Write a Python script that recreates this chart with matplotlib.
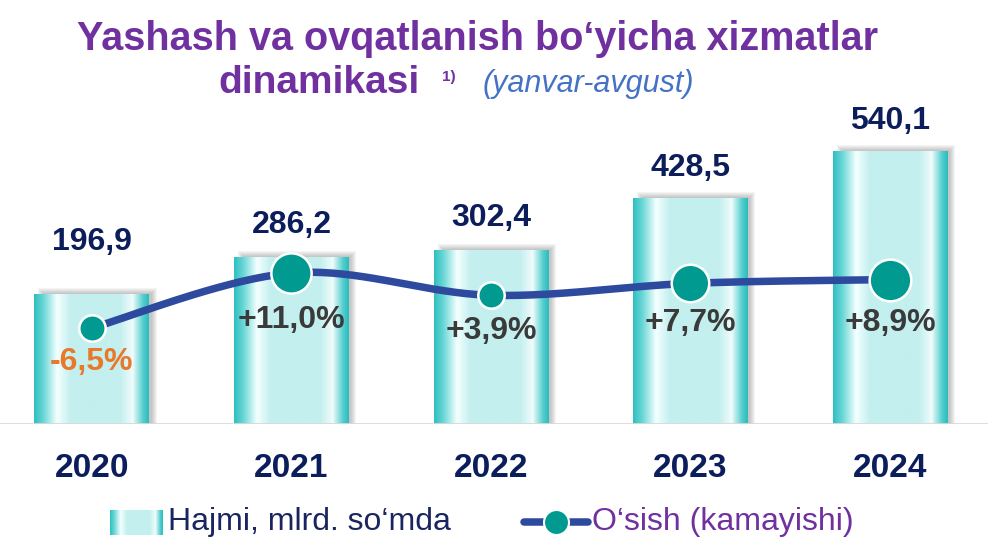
import numpy as np
import matplotlib.pyplot as plt
from matplotlib.patches import Rectangle
from matplotlib.colors import to_rgb

years = ["2020", "2021", "2022", "2023", "2024"]
volume = [196.9, 286.2, 302.4, 428.5, 540.1]
growth = [-6.5, 11.0, 3.9, 7.7, 8.9]
volume_labels = ["196,9", "286,2", "302,4", "428,5", "540,1"]
growth_labels = ["-6,5%", "+11,0%", "+3,9%", "+7,7%", "+8,9%"]

W, H = 988, 548
NAVY = "#0B1D5B"
PURPLE = "#7030A0"
LINE = "#2E4A9E"
TEAL = "#009A91"
FONT = "Liberation Sans"

plt.rcParams["font.family"] = [FONT, "DejaVu Sans"]

fig = plt.figure(figsize=(W / 100, H / 100), dpi=100)

# bar axis: bottom at pixel 424, top at pixel 100
ax = fig.add_axes([0, (H - 424) / H, 1, 324 / H])
px_per_unit = 0.4166
ymin = -115
ax.set_ylim(ymin, ymin + 324 / px_per_unit)
ax.set_xlim(-92 / 199.5, (W - 92) / 199.5)
for s in ax.spines.values():
    s.set_visible(False)
ax.set_yticks([])

x = np.arange(len(years))
px_x = 1 / 199.5
bw = 115 * px_x

# cylinder-like gradient across the bar
stops = [(0.0, "#2FC0C0"), (0.08, "#6AD6D6"), (0.2, "#F4FFFF"), (0.32, "#C4EFEF"),
         (0.75, "#C4EFEF"), (0.86, "#F0FCFC"), (0.95, "#55CECE"), (1.0, "#2BBDBD")]
pos = np.linspace(0, 1, 200)
grad = np.zeros((1, 200, 3))
for c in range(3):
    grad[0, :, c] = np.interp(pos, [p for p, _ in stops], [to_rgb(col)[c] for _, col in stops])

bars = ax.bar(x, np.array(volume) - ymin, bottom=ymin, width=bw, color="none", zorder=3)
for b in bars:
    bx, by, bwid, bh = b.get_x(), b.get_y(), b.get_width(), b.get_height()
    # soft blurred shadow, up and to the right
    for k in range(6):
        ax.add_patch(Rectangle((bx + (9 - k) * px_x, by),
                               bwid - (9 - k) * px_x + (2 + k) * px_x,
                               bh + (1 + k) / px_per_unit, color="#4A4A4A",
                               alpha=0.06, lw=0, zorder=2))
    im = ax.imshow(grad, extent=[bx, bx + bwid, by, by + bh], aspect="auto", zorder=3)
    im.set_clip_path(b)

ax.axhline(ymin, color="#D9D9D9", lw=2, zorder=4)

gaps = [52, 32, 32, 30, 30]
for xi, v, lab, g in zip(x, volume, volume_labels, gaps):
    ax.annotate(lab, (xi, v), xytext=(0, g * 0.72), textcoords="offset points",
                ha="center", va="center", fontsize=23, fontweight="bold", color=NAVY)

ax.set_xticks(x)
ax.set_xticklabels(years, fontsize=24, fontweight="bold", color=NAVY)
ax.tick_params(axis="x", length=0, pad=21)

# growth line on a twin axis
ax2 = ax.twinx()
ax2.set_ylim(-37.1, 66.1)
ax2.set_yticks([])
for s in ax2.spines.values():
    s.set_visible(False)

# smoothed curve (Catmull-Rom) through the points
pts = np.column_stack([x, growth]).astype(float)
ext = np.vstack([pts[0], pts, pts[-1]])
curve = []
t = np.linspace(0, 1, 40)[:, None]
for i in range(1, len(ext) - 2):
    p0, p1, p2, p3 = ext[i - 1], ext[i], ext[i + 1], ext[i + 2]
    seg = 0.5 * ((2 * p1) + (-p0 + p2) * t + (2 * p0 - 5 * p1 + 4 * p2 - p3) * t ** 2
                 + (-p0 + 3 * p1 - 3 * p2 + p3) * t ** 3)
    curve.append(seg)
curve = np.vstack(curve)
ax2.plot(curve[:, 0], curve[:, 1], color=LINE, lw=5.4, solid_capstyle="round", zorder=5)

msizes = [19, 29, 19, 27, 30]
for xi, g, ms in zip(x, growth, msizes):
    ax2.plot(xi, g, "o", ms=ms, color=TEAL, mec="white", mew=1.8, zorder=6)

loffs = [34, 47, 36, 40, 43]
for xi, g, lab, lo in zip(x, growth, growth_labels, loffs):
    ax2.annotate(lab, (xi, g), xytext=(0, -lo * 0.72), textcoords="offset points",
                 ha="center", va="center", fontsize=23, fontweight="bold",
                 color="#E8792B" if g < 0 else "#3A3A3A", zorder=7)

# title
fig.text(478 / W, 1 - 39 / H, "Yashash va ovqatlanish bo\u2018yicha xizmatlar",
         ha="center", va="center", fontsize=28.5, fontweight="bold", color=PURPLE)
fig.text(420 / W, 1 - 83 / H, "dinamikasi", ha="right", va="center",
         fontsize=28, fontweight="bold", color=PURPLE)
fig.text(442 / W, 1 - 77 / H, "1)", ha="left", va="center",
         fontsize=11, fontweight="bold", color=PURPLE)
fig.text(483 / W, 1 - 84 / H, "(yanvar-avgust)", ha="left", va="center",
         fontsize=22, style="italic", color="#4472C4")

# legend
lg = fig.add_axes([0, 0, 1, 1], facecolor="none")
lg.set_xlim(0, W)
lg.set_ylim(H, 0)
lg.axis("off")
lg.imshow(grad, extent=[110, 163, 535, 510], aspect="auto", zorder=2)
lg.text(168, 522, "Hajmi, mlrd. so\u2018mda", ha="left", va="center",
        fontsize=23, color="#1A2560")
lg.plot([524, 588], [522, 522], color=LINE, lw=5.4, solid_capstyle="round")
lg.plot(556, 522, "o", ms=18, color=TEAL, mec="white", mew=1.5)
lg.text(592, 522, "O\u2018sish (kamayishi)", ha="left", va="center",
        fontsize=23, color=PURPLE)

fig.savefig("out.png", dpi=100)
